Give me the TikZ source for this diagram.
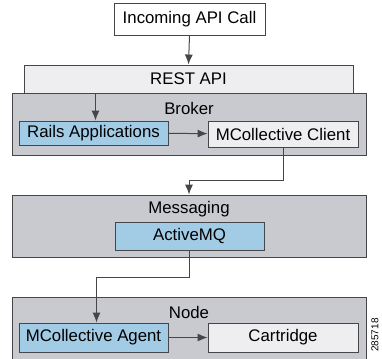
\documentclass[tikz,border=0pt]{standalone}
\usepackage{fontspec}
\setmainfont{Liberation Sans}
\usetikzlibrary{arrows.meta}
\definecolor{capa}{RGB}{200,202,208}
\definecolor{azul}{RGB}{162,203,230}
\definecolor{claro}{RGB}{238,238,240}
\definecolor{borde}{RGB}{70,70,72}
\begin{document}
\begin{tikzpicture}[x=1pt,y=-1pt,
    caja/.style={draw=borde,line width=0.9pt,inner sep=0pt,font=\fontsize{16.8}{19}\selectfont},
    titulo/.style={font=\fontsize{16.8}{19}\selectfont,inner sep=0pt},
    flecha/.style={draw=borde,line width=1pt,-{Latex[length=10pt,width=8pt]}}]
  \useasboundingbox (0,0) rectangle (382,358);
  \node[caja,fill=white,minimum width=151pt,minimum height=32pt] (llamada) at (189.5,19) {Incoming API Call};
  \node[caja,fill=claro,minimum width=329pt,minimum height=28pt] (rest) at (188.5,79) {REST API};
  \node[caja,fill=capa,minimum width=354pt,minimum height=62pt] (broker) at (189,124) {};
  \node[caja,fill=capa,minimum width=354pt,minimum height=62pt] (mensajeria) at (189,226) {};
  \node[caja,fill=capa,minimum width=354pt,minimum height=66pt] (nodo) at (189,330) {};
  \node[titulo] (tit1) at (189,108) {Broker};
  \node[titulo] (tit2) at (189,209) {Messaging};
  \node[titulo] (tit3) at (189,312) {Node};
  \node[caja,fill=azul,minimum width=149pt,minimum height=24pt] (rails) at (93.5,133) {Rails Applications};
  \node[caja,fill=claro,minimum width=150pt,minimum height=26pt] (cliente) at (283,134) {MCollective Client};
  \node[caja,fill=azul,minimum width=149pt,minimum height=28pt] (activemq) at (189.5,236) {ActiveMQ};
  \node[caja,fill=azul,minimum width=149pt,minimum height=29pt] (agente) at (93.5,337.5) {MCollective Agent};
  \node[caja,fill=claro,minimum width=150pt,minimum height=29pt] (cartucho) at (283,337.5) {Cartridge};
  \node[rotate=90,font=\fontsize{10}{11}\selectfont,inner sep=0pt] (codigo) at (375,335) {285718};
  \draw[flecha] (llamada.south) -- (rest.north);
  \draw[flecha] ([xshift=2pt]rails.north |- rest.south) -- ([xshift=2pt]rails.north);
  \draw[flecha] (rails) -- (cliente);
  \draw[flecha] (cliente.south) -- ++(0,33) -| (mensajeria.north);
  \draw[flecha] (activemq.south) -- ++(0,27) -| ([xshift=3pt]agente.north);
  \draw[flecha] (agente) -- (cartucho);
\end{tikzpicture}
\end{document}
